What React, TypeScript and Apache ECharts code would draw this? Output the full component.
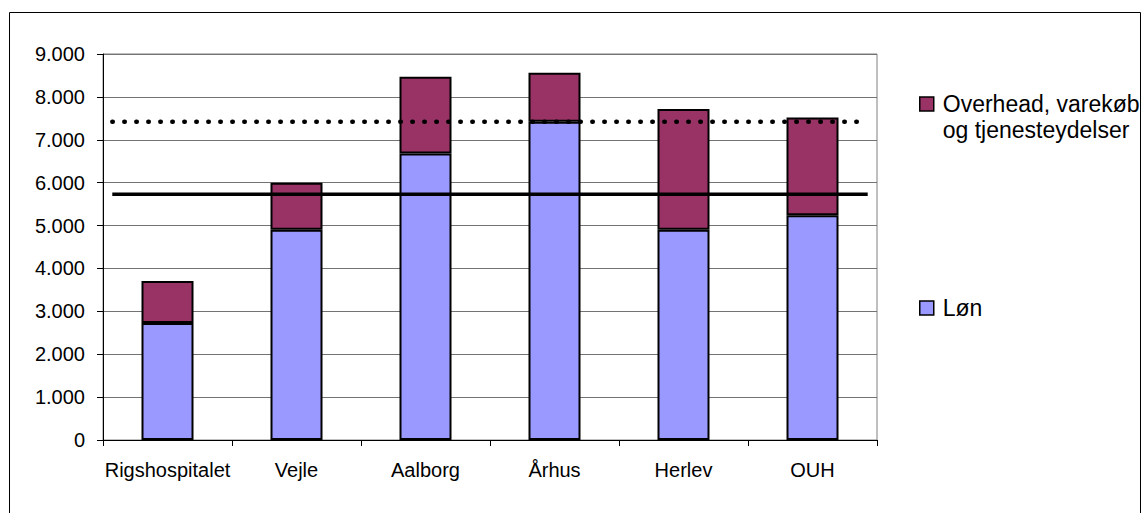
import React, { useEffect, useRef } from "react";
import * as echarts from "echarts";

const categories = ["Rigshospitalet", "Vejle", "Aalborg", "Århus", "Herlev", "OUH"];
const lonValues = [2730, 4900, 6680, 7420, 4900, 5240];
const overheadValues = [980, 1100, 1790, 1140, 2820, 2280];
const solidLineValue = 5730;
const dottedLineValue = 7420;
const lineSpan = [0.012, 0.988];
const seriesNames = ["Løn", "Overhead, varekøb og tjenesteydelser"];
const overheadLegendLines = ["Overhead, varekøb", "og tjenesteydelser"];

const FONT = "'Liberation Sans', Arial, sans-serif";

function fmt(v: number): string {
  return String(v).replace(/\B(?=(\d{3})+(?!\d))/g, ".");
}

export default function App() {
  const ref = useRef<HTMLDivElement>(null);
  useEffect(() => {
    document.body.style.margin = "0";
    const chart = echarts.init(ref.current!, undefined, { renderer: "svg" });
    chart.setOption({
      animation: false,
      backgroundColor: "#ffffff",
      textStyle: { fontFamily: FONT },
      grid: {
        left: 103,
        right: 267,
        top: 54,
        bottom: 73,
        show: true,
        borderColor: "#808080",
        borderWidth: 1,
        backgroundColor: "transparent",
      },
      legend: [
        {
          data: [seriesNames[1]],
          left: 919,
          top: 65,
          padding: 0,
          icon: "rect",
          itemWidth: 14,
          itemHeight: 14,
          selectedMode: false,
          formatter: () => "\n" + overheadLegendLines.join("\n"),
          itemStyle: { borderColor: "#000", borderWidth: 1.5 },
          textStyle: {
            fontFamily: FONT,
            fontSize: 23,
            color: "#000",
            lineHeight: 26,
            padding: [0, 0, 0, 4],
          },
        },
        {
          data: [seriesNames[0]],
          left: 919,
          top: 295,
          padding: 0,
          icon: "rect",
          itemWidth: 14,
          itemHeight: 14,
          selectedMode: false,
          itemStyle: { borderColor: "#000", borderWidth: 1.5 },
          textStyle: {
            fontFamily: FONT,
            fontSize: 23,
            color: "#000",
            lineHeight: 26,
            padding: [0, 0, 0, 4],
          },
        },
      ],
      xAxis: [
        {
          type: "category",
          data: categories,
          axisLine: { lineStyle: { color: "#000", width: 1 } },
          axisTick: { show: true, length: 6, lineStyle: { color: "#000" } },
          axisLabel: { fontFamily: FONT, fontSize: 20, color: "#000", margin: 20, interval: 0 },
          splitLine: { show: false },
        },
        {
          type: "value",
          min: 0,
          max: 1,
          show: false,
          position: "top",
        },
      ],
      yAxis: {
        type: "value",
        min: 0,
        max: 9000,
        interval: 1000,
        axisLine: { show: true, lineStyle: { color: "#000", width: 1 } },
        axisTick: { show: true, length: 6, lineStyle: { color: "#000" } },
        axisLabel: {
          fontFamily: FONT,
          fontSize: 20,
          color: "#000",
          margin: 18,
          formatter: (v: number) => fmt(v),
        },
        splitLine: { show: true, lineStyle: { color: "#737373", width: 1 } },
      },
      graphic: [
        {
          type: "rect",
          shape: { x: 9.5, y: 12.5, width: 1131, height: 520 },
          style: { fill: "none", stroke: "#000", lineWidth: 1 },
          silent: true,
        },
      ],
      series: [
        {
          name: seriesNames[0],
          type: "bar",
          stack: "total",
          data: lonValues,
          barWidth: 52,
          itemStyle: { color: "#9999FF", borderColor: "#000", borderWidth: 2 },
        },
        {
          name: seriesNames[1],
          type: "bar",
          stack: "total",
          data: overheadValues,
          barWidth: 52,
          itemStyle: { color: "#993366", borderColor: "#000", borderWidth: 2 },
        },
        {
          name: "Gennemsnit",
          type: "line",
          xAxisIndex: 1,
          data: [
            [lineSpan[0], solidLineValue],
            [lineSpan[1], solidLineValue],
          ],
          symbol: "none",
          silent: true,
          z: 5,
          lineStyle: { color: "#000", width: 3.5 },
        },
        {
          name: "Niveau",
          type: "line",
          xAxisIndex: 1,
          data: [
            [lineSpan[0], dottedLineValue],
            [lineSpan[1], dottedLineValue],
          ],
          symbol: "none",
          silent: true,
          z: 5,
          lineStyle: { color: "#000", width: 4.5, type: [0.5, 11.5], cap: "round" },
        },
      ],
    });
    return () => chart.dispose();
  }, []);
  return <div ref={ref} style={{ width: 1144, height: 513 }} />;
}
